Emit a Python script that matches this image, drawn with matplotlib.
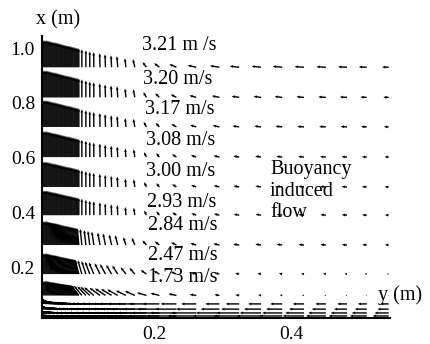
import numpy as np
from matplotlib import pyplot as plt

# grid columns along the floor, y (m); dense next to the wall
y_cols = [0.0365, 0.0380, 0.0394, 0.0409, 0.0423, 0.0438, 0.0453, 0.0467, 0.0482,
          0.0496, 0.0511, 0.0526, 0.0540, 0.0555, 0.0569, 0.0584, 0.0599, 0.0613,
          0.0628, 0.0642, 0.0657, 0.0672, 0.0686, 0.0701, 0.0715, 0.0730, 0.0745,
          0.0759, 0.0774, 0.0788, 0.0803, 0.0818, 0.0832, 0.0847, 0.0861, 0.0876,
          0.0890,
          0.0934, 0.0993, 0.105, 0.111, 0.120, 0.128, 0.137, 0.146, 0.158,
          0.171, 0.188, 0.207, 0.232, 0.261, 0.295, 0.324, 0.356, 0.387, 0.419,
          0.451, 0.482, 0.511, 0.543]

# rows of vectors along the wall, x (m), and peak speed of each row
x_rows = [0.93, 0.82, 0.712, 0.602, 0.493, 0.39, 0.281, 0.175, 0.097]
peak_speed = [3.21, 3.20, 3.17, 3.08, 3.00, 2.93, 2.84, 2.47, 1.73]
speed_labels = ["3.21 m /s", "3.20 m/s", "3.17 m/s", "3.08 m/s", "3.00 m/s",
                "2.93 m/s", "2.84 m/s", "2.47 m/s", "1.73 m/s"]

# upward velocity profile across the boundary layer (fraction of peak)
v_profile = [1.0, 1.0, 1.0, 1.0, 1.0, 0.99, 0.98, 0.97, 0.96, 0.95, 0.94, 0.935,
             0.93, 0.92, 0.91, 0.90, 0.89, 0.88, 0.87, 0.86, 0.85, 0.84, 0.83,
             0.82, 0.81, 0.805, 0.80, 0.79, 0.78, 0.77, 0.76, 0.75, 0.74, 0.73,
             0.72, 0.71, 0.70,
             0.67, 0.63, 0.59, 0.56, 0.52, 0.48, 0.44, 0.41, 0.33, 0.30, 0.19,
             0.15, 0.11, 0.07, 0.055, 0.04, 0.035, 0.03, 0.022, 0.018, 0.015,
             0.011, 0.007]

# entrainment towards the wall (fraction), far field and near-floor parts
u_far = [0] * 37 + [0, 0, 0, 0.02, 0.03, 0.05, 0.07, 0.09, 0.12, 0.2, 0.4, 0.55,
                    0.75, 0.9, 1.0, 1.0, 1.0, 1.0, 1.0, 1.0, 0.95, 0.85, 0.7]
u_far_speed = [0.45, 0.36, 0.32, 0.28, 0.27, 0.26, 0.25, 0.12, 0.04]
u_near = [0, 0, 0, 0.03, 0.05, 0.08, 0.1, 0.13, 0.15, 0.18, 0.2, 0.23, 0.25,
          0.28, 0.3, 0.33, 0.35, 0.38, 0.4, 0.43, 0.45, 0.48, 0.5, 0.53, 0.55,
          0.58, 0.6, 0.61, 0.62, 0.64, 0.65, 0.67, 0.68, 0.69, 0.7, 0.71, 0.72,
          0.76, 0.82, 0.88, 0.93, 1.0, 1.0, 1.0, 1.0, 0.95, 0.92, 0.88, 0.8,
          0.7, 0.55, 0.4, 0.3, 0.2, 0.15, 0.1, 0.07, 0.05, 0.03, 0.02]
u_near_speed = [0, 0, 0, 0, 0, 0, 0.1, 0.25, 0.5]

# flow along the floor
x_floor = [0.066, 0.047, 0.033, 0.022]
floor_u = [0.3, 0.35, 0.4, 0.45, 0.5, 0.55, 0.6, 0.65, 0.7, 0.73, 0.75, 0.78,
           0.8, 0.83, 0.85, 0.88, 0.9, 0.93, 0.95, 0.95, 0.95, 0.96, 0.96, 0.97,
           0.97, 0.98, 0.98, 0.99, 0.99, 1.0, 1.0, 1.0, 1.0, 1.0, 1.0, 1.0, 1.0,
           1.0, 1.0, 1.0, 1.0, 1.0, 1.0, 1.0, 1.0, 0.97, 0.95, 0.92, 0.88, 0.84,
           0.8, 0.75, 0.72, 0.68, 0.64, 0.6, 0.56, 0.52, 0.48, 0.45]
floor_u_speed = [0.9, 1.2, 1.5, 1.7]
floor_v = [1.0, 0.92, 0.85, 0.78, 0.7, 0.65, 0.6, 0.55, 0.5, 0.46, 0.42, 0.38,
           0.35, 0.32, 0.3, 0.27, 0.25, 0.22, 0.2, 0.18, 0.17, 0.15, 0.14, 0.13,
           0.12, 0.11, 0.1, 0.09, 0.08, 0.075, 0.07, 0.065, 0.06, 0.055, 0.05,
           0.045, 0.04,
           0.03, 0.03, 0.02, 0.02, 0.02, 0.01, 0.01, 0.01, 0, 0, 0, 0, 0, 0, 0,
           0, 0, 0, 0, 0, 0, 0, 0]
floor_v_speed = [1.4, 1.0, 0.6, 0.3]

serif = ['Liberation Serif', 'DejaVu Serif']

fig = plt.figure(figsize=(4.3, 3.44), dpi=100)
ax = fig.add_axes([42/430, 1 - 318/344, 348/430, 282/344])

# wall rows
Y, X = np.meshgrid(y_cols, x_rows)
V = np.array(peak_speed)[:, None] * np.array(v_profile)[None, :]
U = -(np.array(u_far_speed)[:, None] * np.array(u_far)[None, :]
      + np.array(u_near_speed)[:, None] * np.array(u_near)[None, :])

# floor rows
Yf, Xf = np.meshgrid(y_cols, x_floor)
Uf = -np.array(floor_u_speed)[:, None] * np.array(floor_u)[None, :]
Vf = np.array(floor_v_speed)[:, None] * np.array(floor_v)[None, :]

qargs = dict(angles='xy', scale_units='xy', scale=32.7, units='dots', width=1.4,
             headwidth=2.1, headlength=2.4, headaxislength=2.2, color='black',
             pivot='tail', minlength=0.5)
ax.quiver(Y, X, U, V, **qargs)
ax.quiver(Yf, Xf, Uf, Vf, **qargs)

ax.set_xlim(0.035, 0.545)
ax.set_ylim(0.0146, 1.044)
ax.set_xticks([0.2, 0.4])
ax.set_xticklabels(['0.2', '0.4'])
ax.set_yticks([0.2, 0.4, 0.6, 0.8, 1.0])
ax.set_yticklabels(['0.2', '0.4', '0.6', '0.8', '1.0'])
ax.tick_params(axis='y', length=0, pad=5, labelsize=14)
ax.tick_params(axis='x', length=0, pad=6, labelsize=14)
for lab in ax.get_xticklabels() + ax.get_yticklabels():
    lab.set_family(serif)
for side in ['top', 'right']:
    ax.spines[side].set_visible(False)
for side in ['left', 'bottom']:
    ax.spines[side].set_linewidth(1.5)

label_pos = [(142, 45), (143, 79), (145, 110), (146, 140), (146, 172),
             (147, 202), (148, 225), (148, 255), (148, 278)]
for (px, py), txt in zip(label_pos, speed_labels):
    fig.text(px/430, 1 - py/344, txt, fontsize=14.5, family=serif,
             ha='left', va='center')

fig.text(270/430, 1 - 191/344, "Buoyancy\ninduced\nflow", fontsize=14.5,
         family=serif, ha='left', va='center', linespacing=1.2)
fig.text(36/430, 1 - 20/344, "x (m)", fontsize=14.5, family=serif,
         ha='left', va='center')
fig.text(378/430, 1 - 295/344, "y (m)", fontsize=14.5, family=serif,
         ha='left', va='center')

fig.savefig('out.png', dpi=100)
